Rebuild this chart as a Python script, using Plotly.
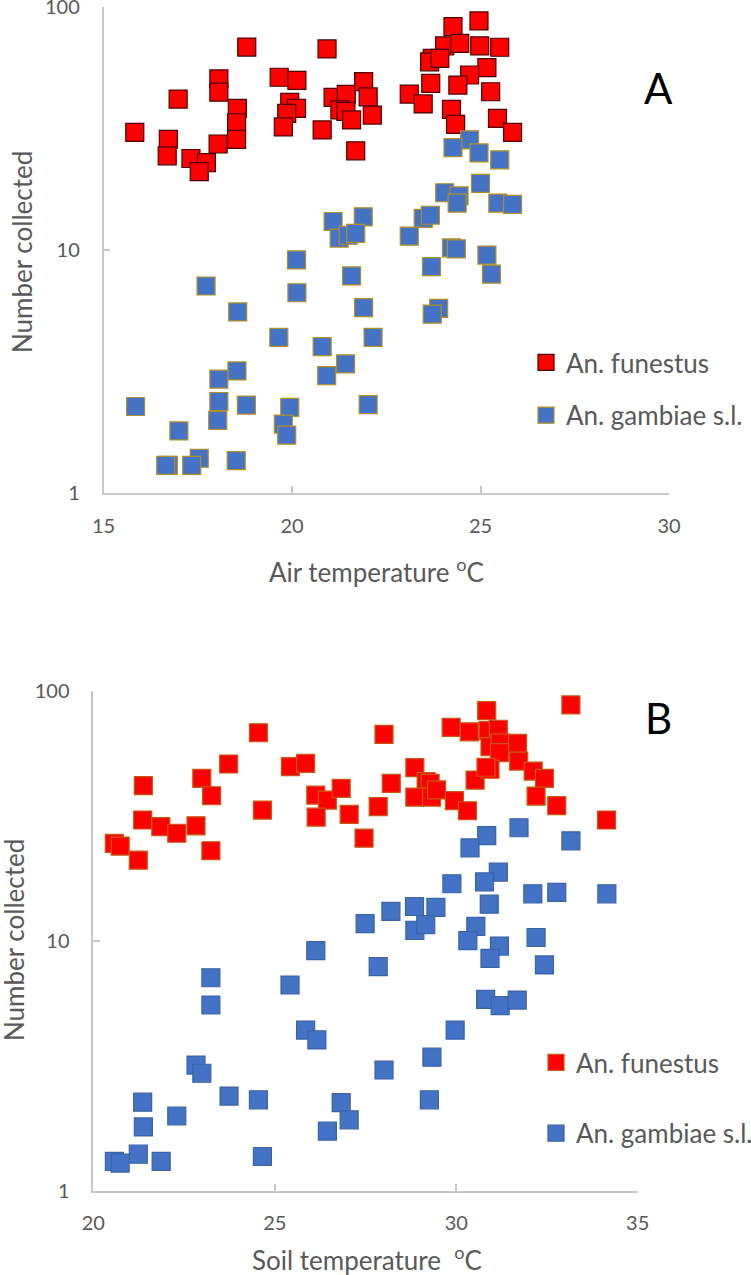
import plotly.graph_objects as go

# ---------------- Data ----------------
# Panel A: air temperature
air_funestus_x = [15.83, 16.98, 16.72, 16.69, 17.32, 17.73, 17.54, 18.04, 18.06, 18.06, 18.55, 18.53, 18.53,
                  18.80, 19.66, 20.13, 19.94, 20.12, 19.86, 19.77, 20.93, 20.80, 21.09, 21.44, 21.90, 22.02,
                  21.27, 21.43, 21.58, 21.69, 22.13, 24.96, 24.27, 24.05, 24.45, 24.98, 25.51, 23.72, 23.65,
                  23.92, 25.17, 24.71, 23.68, 24.40, 25.27, 23.11, 23.48, 24.23, 24.34, 25.45, 25.85]
air_funestus_y = [30.5, 41.8, 28.5, 24.4, 23.8, 22.9, 21.0, 27.3, 50.6, 44.6, 38.3, 33.4, 28.5,
                  68.4, 51.4, 49.9, 40.5, 38.3, 36.5, 32.1, 67.2, 31.2, 42.5, 43.7, 49.3, 42.7,
                  37.7, 37.2, 34.3, 25.6, 35.9, 87.6, 83.0, 69.2, 70.9, 69.2, 68.3, 61.5, 59.5,
                  61.5, 56.3, 52.5, 48.5, 47.7, 44.8, 43.8, 39.9, 37.9, 32.9, 34.8, 30.5]

air_gambiae_x = [21.09, 21.89, 21.25, 21.49, 21.69, 20.12, 17.72, 20.13, 21.58, 18.56, 21.90, 19.65, 22.15,
                 20.80, 21.42, 20.92, 18.54, 18.06, 18.06, 18.79, 15.85, 19.94, 22.02, 18.03, 19.77, 19.86,
                 17.00, 17.54, 17.34, 16.72, 16.65, 18.52, 24.71, 24.27, 24.96, 25.51, 25.00, 24.05, 24.43,
                 24.38, 25.46, 25.85, 23.48, 23.67, 23.11, 24.23, 24.36, 25.17, 25.29, 23.70, 23.89, 23.72]
air_gambiae_y = [13.1, 13.7, 11.2, 11.5, 11.7, 9.10, 7.11, 6.67, 7.82, 5.56, 5.79, 4.37, 4.37,
                 4.00, 3.40, 3.04, 3.18, 2.94, 2.38, 2.30, 2.27, 2.25, 2.31, 1.99, 1.92, 1.73,
                 1.80, 1.39, 1.30, 1.30, 1.30, 1.36, 28.4, 26.4, 25.1, 23.5, 18.8, 17.2, 16.7,
                 15.6, 15.6, 15.4, 13.5, 13.9, 11.4, 10.2, 10.1, 9.53, 7.96, 8.54, 5.75, 5.45]

# Panel B: soil temperature
soil_funestus_x = [20.58, 20.74, 21.24, 21.38, 21.36, 21.86, 22.30, 22.83, 22.99, 23.26, 23.24, 23.73, 24.55,
                   24.66, 25.43, 25.85, 26.13, 26.45, 26.83, 26.14, 27.05, 27.46, 27.85, 28.01, 28.86, 29.17,
                   29.28, 28.86, 29.32, 29.46, 28.21, 29.86, 30.36, 29.95, 30.31, 30.52, 30.84, 30.88, 31.16,
                   30.93, 31.21, 31.19, 30.93, 30.82, 31.69, 31.72, 32.12, 32.43, 32.20, 32.77, 33.16, 34.14]
soil_funestus_y = [24.5, 23.9, 21.0, 41.7, 30.4, 28.6, 26.9, 28.8, 44.6, 38.0, 22.9, 50.9, 67.9,
                   33.3, 49.7, 51.2, 38.2, 36.5, 40.7, 31.2, 32.0, 25.7, 34.4, 66.9, 49.2, 43.3,
                   42.6, 37.5, 37.5, 40.1, 42.6, 71.4, 68.5, 36.3, 33.1, 43.9, 83.2, 69.2, 70.1,
                   59.7, 61.9, 56.5, 48.5, 49.4, 61.6, 52.3, 47.7, 44.6, 37.9, 34.7, 87.7, 30.4]

soil_gambiae_x = [31.73, 30.84, 30.38, 33.16, 31.16, 30.78, 29.88, 32.11, 32.77, 34.15, 30.91, 28.85, 29.44,
                  28.20, 27.49, 28.86, 29.16, 30.54, 30.32, 31.19, 30.93, 32.20, 27.85, 32.43, 30.81, 31.21,
                  31.68, 29.97, 29.33, 28.01, 29.26, 26.13, 23.24, 23.24, 25.42, 25.85, 26.16, 22.83, 22.99,
                  23.74, 24.55, 26.83, 27.05, 26.45, 21.36, 21.38, 22.30, 21.24, 21.87, 20.58, 20.74, 24.66]
soil_gambiae_y = [28.3, 26.3, 23.5, 25.1, 18.8, 17.2, 16.9, 15.4, 15.6, 15.4, 14.0, 13.7, 13.6,
                  13.1, 11.7, 11.0, 11.6, 11.4, 10.0, 9.52, 8.50, 10.3, 7.87, 8.00, 5.83, 5.50,
                  5.79, 4.39, 3.42, 3.04, 2.31, 9.12, 7.11, 5.53, 6.65, 4.39, 4.01, 3.18, 2.95,
                  2.39, 2.31, 2.25, 1.92, 1.73, 2.26, 1.80, 1.99, 1.40, 1.31, 1.31, 1.29, 1.37]

series_names = ["An. funestus", "An. gambiae s.l."]
x_ticks_air = [15, 20, 25, 30]
x_ticks_soil = [20, 25, 30, 35]
y_ticks = [1, 10, 100]
y_ticktext = ["1", "10", "100"]

# ---------------- Style ----------------
FONT = "Lato, Carlito, 'Open Sans', sans-serif"
TXT = "#595959"
AXC = "#c8c8c8"
RED = "#ff0000"
BLUE = "#4472c4"

W, H = 751, 1275

fig = go.Figure()

fig.add_trace(go.Scatter(x=air_funestus_x, y=air_funestus_y, mode="markers", name=series_names[0],
                         xaxis="x", yaxis="y", legend="legend", legendgroup="a1",
                         marker=dict(symbol="square", size=18, color=RED, line=dict(color="#4a0000", width=1.2))))
fig.add_trace(go.Scatter(x=air_gambiae_x, y=air_gambiae_y, mode="markers", name=series_names[1],
                         xaxis="x", yaxis="y", legend="legend", legendgroup="a2",
                         marker=dict(symbol="square", size=18, color=BLUE, line=dict(color="#b08f26", width=1.2))))
fig.add_trace(go.Scatter(x=soil_funestus_x, y=soil_funestus_y, mode="markers", name=series_names[0],
                         xaxis="x2", yaxis="y2", legend="legend2", legendgroup="b1",
                         marker=dict(symbol="square", size=18, color=RED, line=dict(color="#c55a11", width=1.2))))
fig.add_trace(go.Scatter(x=soil_gambiae_x, y=soil_gambiae_y, mode="markers", name=series_names[1],
                         xaxis="x2", yaxis="y2", legend="legend2", legendgroup="b2",
                         marker=dict(symbol="square", size=18, color=BLUE, line=dict(color="#3a64a8", width=1.2))))

def px_x(p):
    return min(1.0, max(0.0, p / W))

def px_y(p):
    return min(1.0, max(0.0, 1 - p / H))

common_x = dict(showline=True, linecolor=AXC, linewidth=1.5, ticks="inside", ticklen=7, tickcolor=AXC,
                tickwidth=1.5, showgrid=False, zeroline=False, automargin=False, ticklabeloverflow="allow",
                tickfont=dict(family=FONT, size=20, color=TXT), ticklabelstandoff=14)
common_y = dict(type="log", range=[0, 2], tickvals=y_ticks, ticktext=y_ticktext,
                showline=True, linecolor=AXC, linewidth=1.5, ticks="inside", ticklen=7, tickcolor=AXC,
                tickwidth=1.5, showgrid=False, zeroline=False, automargin=False, ticklabeloverflow="allow",
                tickfont=dict(family=FONT, size=20, color=TXT), ticklabelstandoff=18)

TITLE_SIZE = 26
LEG_SIZE = 26

fig.update_layout(
    width=W, height=H,
    margin=dict(l=0, r=0, t=0, b=0, autoexpand=False),
    paper_bgcolor="white", plot_bgcolor="white",
    font=dict(family=FONT, color=TXT),
    xaxis=dict(domain=[px_x(103.5), px_x(669)], range=[15, 30], tickvals=x_ticks_air, anchor="y", **common_x),
    yaxis=dict(domain=[px_y(493), px_y(7)], anchor="x", **common_y),
    xaxis2=dict(domain=[px_x(93.3), px_x(637.7)], range=[20, 35], tickvals=x_ticks_soil, anchor="y2", **common_x),
    yaxis2=dict(domain=[px_y(1190.7), px_y(690.7)], anchor="x2", **common_y),
    legend=dict(x=px_x(526), y=px_y(339), xanchor="left", yanchor="top", bgcolor="rgba(0,0,0,0)",
                font=dict(family=FONT, size=LEG_SIZE, color=TXT), traceorder="grouped", tracegroupgap=16),
    legend2=dict(x=px_x(536), y=px_y(1039), xanchor="left", yanchor="top", bgcolor="rgba(0,0,0,0)",
                 font=dict(family=FONT, size=LEG_SIZE, color=TXT), traceorder="grouped", tracegroupgap=34),
    showlegend=True,
    annotations=[
        dict(text="Number collected", x=px_x(22), y=px_y(252), xref="paper", yref="paper", showarrow=False,
             textangle=-90, font=dict(family=FONT, size=TITLE_SIZE, color=TXT), xanchor="center", yanchor="middle"),
        dict(text="Air temperature <sup>o</sup>C", x=px_x(376), y=px_y(570), xref="paper", yref="paper",
             showarrow=False, font=dict(family=FONT, size=TITLE_SIZE, color=TXT), xanchor="center", yanchor="middle"),
        dict(text="Number collected", x=px_x(14), y=px_y(940), xref="paper", yref="paper", showarrow=False,
             textangle=-90, font=dict(family=FONT, size=TITLE_SIZE, color=TXT), xanchor="center", yanchor="middle"),
        dict(text="Soil temperature&nbsp;&nbsp;<sup>o</sup>C", x=px_x(367), y=px_y(1258), xref="paper", yref="paper",
             showarrow=False, font=dict(family=FONT, size=TITLE_SIZE, color=TXT), xanchor="center", yanchor="middle"),
        dict(text="A", x=px_x(658), y=px_y(88), xref="paper", yref="paper", showarrow=False,
             font=dict(family=FONT, size=42, color="black"), xanchor="center", yanchor="middle"),
        dict(text="B", x=px_x(658), y=px_y(718), xref="paper", yref="paper", showarrow=False,
             font=dict(family=FONT, size=42, color="black"), xanchor="center", yanchor="middle"),
    ],
)

fig.write_html("out.html", config={"displayModeBar": False},
               post_script="document.body.style.margin='0px';")
